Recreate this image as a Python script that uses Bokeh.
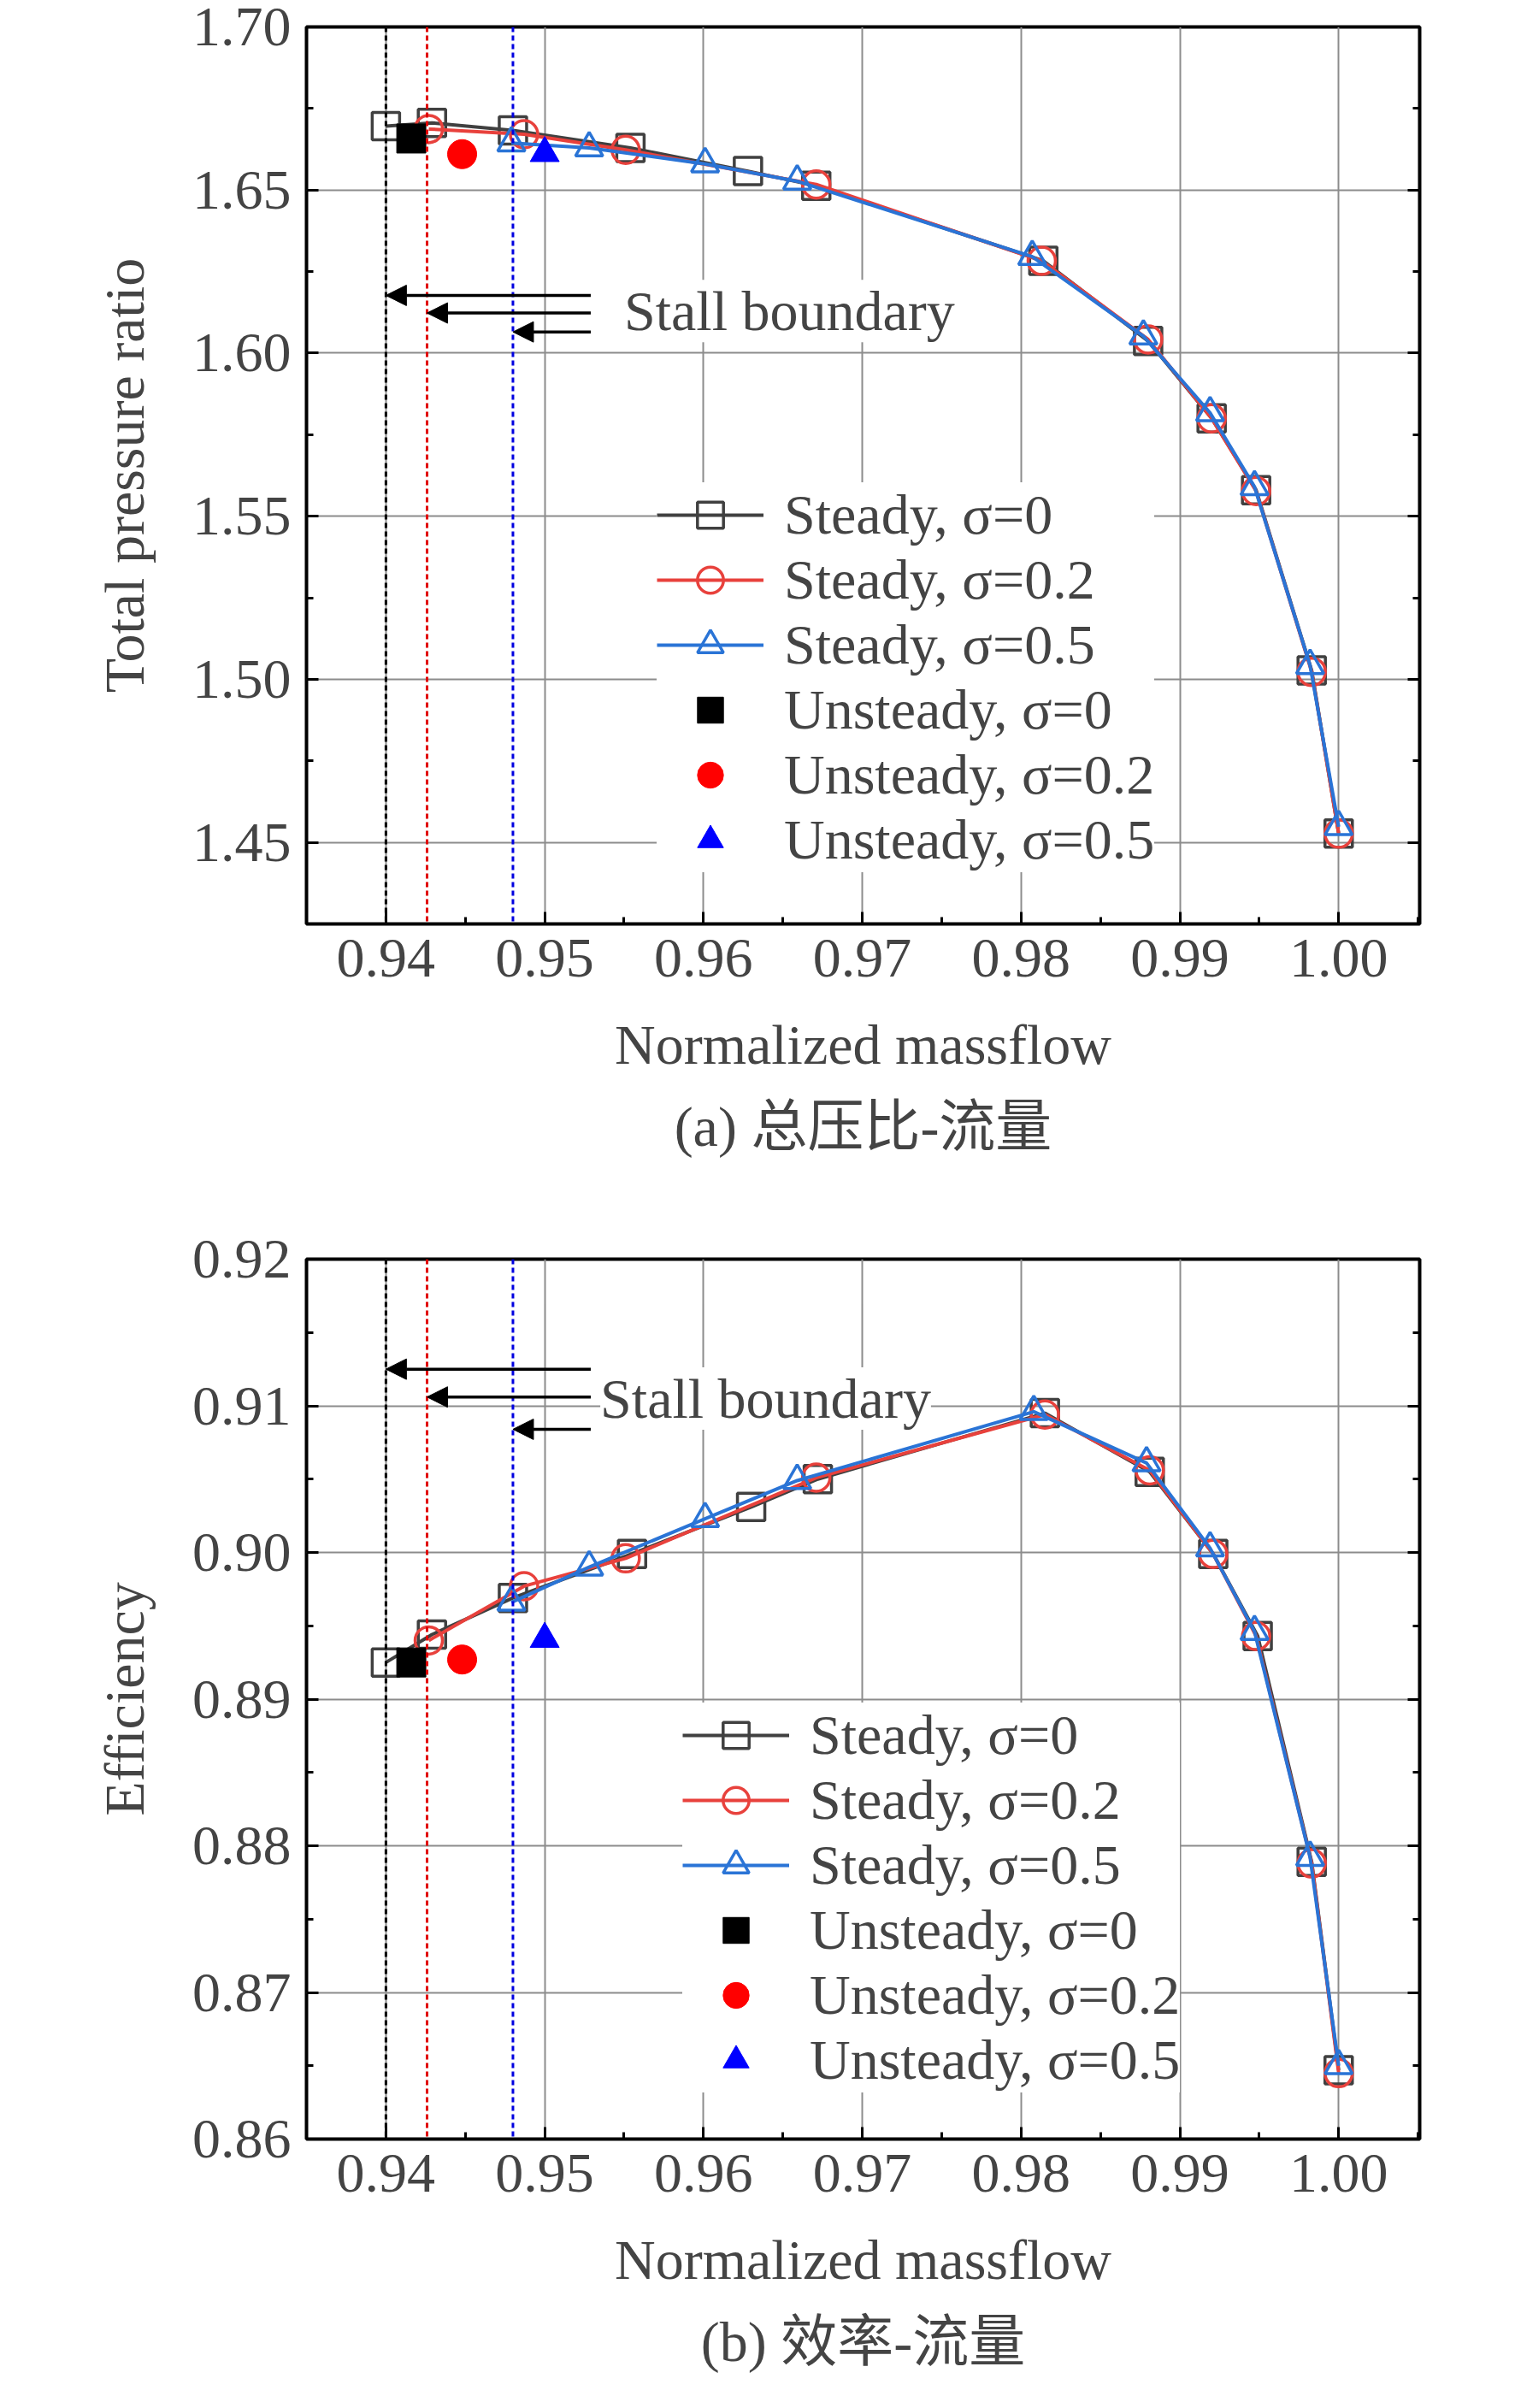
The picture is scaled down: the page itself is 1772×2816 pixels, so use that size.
from bokeh.plotting import figure
from bokeh.layouts import column
from bokeh.models import (Range1d, LinearAxis, Arrow, NormalHead, Span, Label, Legend,
                          LegendItem, Title, FixedTicker, CustomJSTickFormatter)
from bokeh.embed import file_html
from bokeh.resources import INLINE

# ---- data: (a) total pressure ratio ----
pr_s0_x = [0.9400, 0.9429, 0.9480, 0.9554, 0.9628, 0.9671, 0.9814, 0.9880, 0.9920, 0.9948, 0.9983, 1.0000]
pr_s0_y = [1.6696, 1.6706, 1.6683, 1.6629, 1.6558, 1.6513, 1.6283, 1.6037, 1.5800, 1.5580, 1.5027, 1.4527]
pr_s2_x = [0.9427, 0.9487, 0.9551, 0.9671, 0.9813, 0.9880, 0.9920, 0.9948, 0.9983, 1.0000]
pr_s2_y = [1.6687, 1.6671, 1.6623, 1.6517, 1.6283, 1.6042, 1.5800, 1.5577, 1.5023, 1.4527]
pr_s5_x = [0.9479, 0.9528, 0.9601, 0.9659, 0.9807, 0.9877, 0.9919, 0.9947, 0.9982, 1.0000]
pr_s5_y = [1.6644, 1.6629, 1.6580, 1.6527, 1.6296, 1.6052, 1.5817, 1.5590, 1.5042, 1.4548]
pr_u_x = [0.9416, 0.9448, 0.9500]
pr_u_y = [1.6658, 1.6610, 1.6613]

# ---- data: (b) efficiency ----
ef_s0_x = [0.9400, 0.9429, 0.9480, 0.9555, 0.9630, 0.9672, 0.9815, 0.9881, 0.9921, 0.9949, 0.9983, 1.0000]
ef_s0_y = [0.8925, 0.8944, 0.8969, 0.8999, 0.9031, 0.9050, 0.9095, 0.9055, 0.8999, 0.8943, 0.8789, 0.8647]
ef_s2_x = [0.9427, 0.9487, 0.9551, 0.9671, 0.9815, 0.9881, 0.9921, 0.9948, 0.9983, 1.0000]
ef_s2_y = [0.8940, 0.8977, 0.8996, 0.9051, 0.9094, 0.9056, 0.8999, 0.8943, 0.8788, 0.8645]
ef_s5_x = [0.9479, 0.9528, 0.9601, 0.9659, 0.9808, 0.9879, 0.9919, 0.9947, 0.9982, 1.0000]
ef_s5_y = [0.8966, 0.8990, 0.9023, 0.9049, 0.9096, 0.9061, 0.9003, 0.8946, 0.8792, 0.8650]
ef_u_x = [0.9416, 0.9448, 0.9500]
ef_u_y = [0.8925, 0.8927, 0.8941]

stall_x = [0.9400, 0.94259, 0.9480]
x_ticks = [0.94, 0.95, 0.96, 0.97, 0.98, 0.99, 1.00]
pr_ticks = [1.45, 1.50, 1.55, 1.60, 1.65, 1.70]
ef_ticks = [0.86, 0.87, 0.88, 0.89, 0.90, 0.91, 0.92]
labels = ["Steady, σ=0", "Steady, σ=0.2", "Steady, σ=0.5",
          "Unsteady, σ=0", "Unsteady, σ=0.2", "Unsteady, σ=0.5"]

FONT = "Liberation Serif, Noto Sans CJK SC"
FS = "66px"
steady_cols = ["#404040", "#e8413c", "#2a74d6"]
uns_cols = ["#000000", "#ff0000", "#0000ff"]
stall_cols = ["#000000", "#e00000", "#0000e0"]


def make(yr, yticks, ylabel, caption, steady, uns, arrows_y, arrow_from, text_xy,
         leg_loc, height, btop, bbot):
    p = figure(width=1740, height=height, output_backend="svg", toolbar_location=None,
               x_range=Range1d(0.935, 1.0051), y_range=Range1d(*yr),
               min_border_left=358, min_border_right=80, min_border_top=btop,
               min_border_bottom=bbot)
    p.outline_line_color = "black"
    p.outline_line_width = 4
    p.xgrid.ticker = FixedTicker(ticks=x_ticks)
    p.ygrid.ticker = FixedTicker(ticks=yticks)
    p.grid.grid_line_color = "#8c8c8c"
    p.grid.grid_line_width = 2
    for ax, tk in ((p.xaxis[0], x_ticks), (p.yaxis[0], yticks)):
        step = tk[1] - tk[0]
        ax.ticker = FixedTicker(ticks=tk, minor_ticks=[t + step / 2 for t in [tk[0] - step] + tk])
        ax.major_label_text_font = FONT
        ax.major_label_text_font_size = FS
        ax.axis_label_text_font = FONT
        ax.axis_label_text_font_size = FS
        ax.axis_label_text_font_style = "normal"
        ax.major_tick_in = 14
        ax.major_tick_out = 0
        ax.minor_tick_in = 8
        ax.minor_tick_out = 0
        ax.major_tick_line_width = 3
        ax.minor_tick_line_width = 3
        ax.axis_line_color = None
        ax.major_label_standoff = 18
        ax.formatter = CustomJSTickFormatter(code="return tick.toFixed(2);")
    p.xaxis[0].axis_label = "Normalized massflow"
    p.xaxis[0].axis_label_standoff = 40
    p.yaxis[0].axis_label = ylabel
    p.yaxis[0].axis_label_standoff = 40
    ra = LinearAxis(ticker=FixedTicker(ticks=yticks, minor_ticks=p.yaxis[0].ticker.minor_ticks),
                    major_label_text_font_size="1px", major_label_text_alpha=0,
                    major_tick_in=14, major_tick_out=0,
                    minor_tick_in=8, minor_tick_out=0, axis_line_color=None,
                    major_tick_line_width=3, minor_tick_line_width=3)
    p.add_layout(ra, "right")

    for sx, c in zip(stall_x, stall_cols):
        p.add_layout(Span(location=sx, dimension="height", line_color=c,
                          line_dash="6 4", line_width=3))

    items = []
    markers = ["square", "circle", "triangle"]
    for (xs, ys), c, m, lab in zip(steady, steady_cols, markers, labels[:3]):
        ln = p.line(xs, ys, line_color=c, line_width=4)
        sc = p.scatter(xs, ys, marker=m, size=32, fill_color=None, line_color=c, line_width=3.5)
        items.append(LegendItem(label=lab, renderers=[ln, sc]))
    for i, (m, c) in enumerate(zip(markers, uns_cols)):
        sc = p.scatter([uns[0][i]], [uns[1][i]], marker=m, size=34, fill_color=c, line_color=c)
        items.append(LegendItem(label=labels[3 + i], renderers=[sc]))

    for ay, ax_end in zip(arrows_y, stall_x):
        p.add_layout(Arrow(end=NormalHead(size=24, fill_color="black", line_color="black"),
                           x_start=arrow_from, y_start=ay, x_end=ax_end, y_end=ay,
                           line_width=3.5, line_color="black"))
    p.add_layout(Label(x=text_xy[0], y=text_xy[1], text="Stall boundary", text_font=FONT,
                       text_font_size=FS, text_baseline="middle",
                       background_fill_color="white"))

    leg = Legend(items=items, location=leg_loc, label_text_font=FONT, label_text_font_size=FS,
                 glyph_width=125, glyph_height=76, label_height=76, spacing=0,
                 label_standoff=24, border_line_color=None, background_fill_alpha=1,
                 padding=4, margin=0)
    p.add_layout(leg, "center")
    cap = Title(text=caption, align="center", text_font=FONT, text_font_size=FS,
                text_font_style="normal", standoff=36)
    p.add_layout(cap, "below")
    return p


p1 = make((1.425, 1.70), pr_ticks, "Total pressure ratio", "(a) 总压比-流量",
          [(pr_s0_x, pr_s0_y), (pr_s2_x, pr_s2_y), (pr_s5_x, pr_s5_y)], (pr_u_x, pr_u_y),
          [1.6177, 1.6123, 1.6065], 0.9529, (0.9550, 1.6129), (410, 60),
          1400, 31, 320)
p2 = make((0.86, 0.92), ef_ticks, "Efficiency", "(b) 效率-流量",
          [(ef_s0_x, ef_s0_y), (ef_s2_x, ef_s2_y), (ef_s5_x, ef_s5_y)], (ef_u_x, ef_u_y),
          [0.9125, 0.9106, 0.9084], 0.9529, (0.9535, 0.9105), (440, 54),
          1392, 72, 286)

layout = column(p1, p2, spacing=0)
open("out.html", "w").write(file_html(layout, INLINE))
